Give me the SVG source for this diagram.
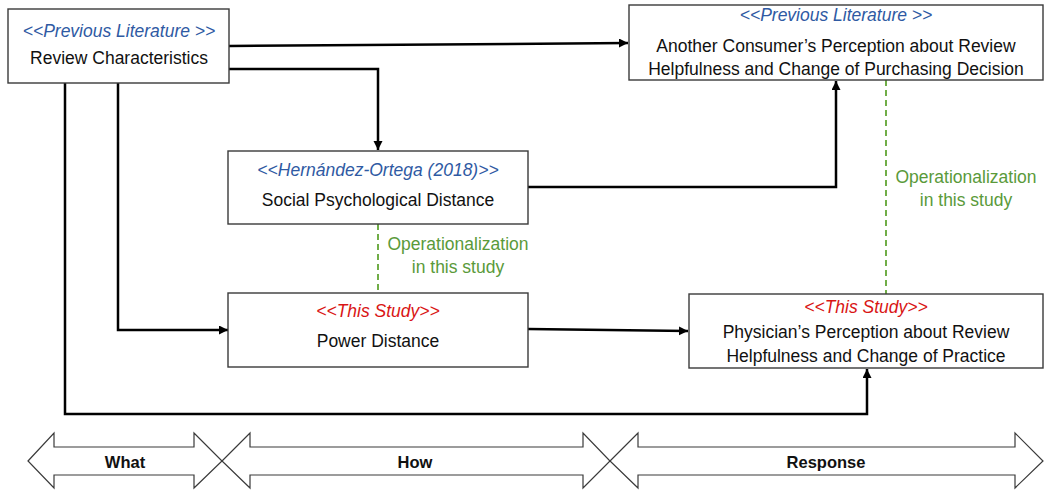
<svg xmlns="http://www.w3.org/2000/svg" width="1052" height="490" viewBox="0 0 1052 490">
<style>
  .box { fill: #ffffff; stroke: #3a3a3a; stroke-width: 1.4; }
  .t { font-family: "Liberation Sans", Arial, sans-serif; font-size: 17.5px; fill: #111111; text-anchor: middle; }
  .lit { font-family: "Liberation Sans", Arial, sans-serif; font-size: 17.5px; font-style: italic; fill: #2F5AA3; text-anchor: middle; }
  .ts { font-family: "Liberation Sans", Arial, sans-serif; font-size: 17.5px; font-style: italic; fill: #D91515; text-anchor: middle; }
  .op { font-family: "Liberation Sans", Arial, sans-serif; font-size: 17.5px; fill: #5A9A3A; text-anchor: middle; }
  .conn { fill: none; stroke: #000000; stroke-width: 2.5; marker-end: url(#ah); }
  .dash { fill: none; stroke: #70AD47; stroke-width: 2; stroke-dasharray: 6 4; }
  .band { fill: #ffffff; stroke: #3a3a3a; stroke-width: 1.2; }
  .bl { font-family: "Liberation Sans", Arial, sans-serif; font-size: 16.5px; font-weight: bold; fill: #111111; text-anchor: middle; }
</style>
<defs>
  <marker id="ah" markerUnits="userSpaceOnUse" markerWidth="10" markerHeight="10" refX="9" refY="4.5" orient="auto">
    <path d="M0,0 L9,4.5 L0,9 z" fill="#000000"/>
  </marker>
</defs>

<g id="connectors">
  <path class="conn" d="M229,46 L628,43"/>
  <path class="conn" d="M229,69 H378 V150"/>
  <path class="conn" d="M118,83 V330 H228"/>
  <path class="conn" d="M65,83 V414 H867 V369"/>
  <path class="conn" d="M528,187 H836 V81"/>
  <path class="conn" d="M528,329 L688,331"/>
  <path class="dash" d="M378,224 V293"/>
  <path class="dash" d="M886,80 V294"/>
</g>

<g id="op-label-1">
  <text class="op" x="458" y="250">Operationalization</text>
  <text class="op" x="458" y="273">in this study</text>
</g>
<g id="op-label-2">
  <text class="op" x="966" y="183">Operationalization</text>
  <text class="op" x="966" y="206">in this study</text>
</g>

<g id="review-characteristics">
  <rect class="box" x="8" y="9" width="221" height="74"/>
  <text class="lit" x="119" y="37">&lt;&lt;Previous Literature &gt;&gt;</text>
  <text class="t" x="119" y="64">Review Characteristics</text>
</g>

<g id="another-consumer">
  <rect class="box" x="629" y="5" width="414" height="75"/>
  <text class="lit" x="836" y="21">&lt;&lt;Previous Literature &gt;&gt;</text>
  <text class="t" x="836" y="52">Another Consumer’s Perception about Review</text>
  <text class="t" x="836" y="75">Helpfulness and Change of Purchasing Decision</text>
</g>

<g id="social-psychological-distance">
  <rect class="box" x="228" y="151" width="300" height="73"/>
  <text class="lit" x="378" y="176">&lt;&lt;Hernández-Ortega (2018)&gt;&gt;</text>
  <text class="t" x="378" y="206">Social Psychological Distance</text>
</g>

<g id="power-distance">
  <rect class="box" x="228" y="293" width="300" height="74"/>
  <text class="ts" x="378" y="317">&lt;&lt;This Study&gt;&gt;</text>
  <text class="t" x="378" y="347">Power Distance</text>
</g>

<g id="physician-perception">
  <rect class="box" x="689" y="294" width="354" height="74"/>
  <text class="ts" x="866" y="313">&lt;&lt;This Study&gt;&gt;</text>
  <text class="t" x="866" y="338">Physician’s Perception about Review</text>
  <text class="t" x="866" y="362">Helpfulness and Change of Practice</text>
</g>

<g id="what">
  <path class="band" d="M28,461 L54,433 V447 H194 V433 L222,461 L194,488 V475 H54 V488 Z"/>
  <text class="bl" x="125" y="468">What</text>
</g>
<g id="how">
  <path class="band" d="M222,461 L250,433 V447 H583 V433 L610,461 L583,488 V475 H250 V488 Z"/>
  <text class="bl" x="415" y="468">How</text>
</g>
<g id="response">
  <path class="band" d="M610,461 L638,433 V447 H1015 V433 L1043,461 L1015,488 V475 H638 V488 Z"/>
  <text class="bl" x="826" y="468">Response</text>
</g>
</svg>
